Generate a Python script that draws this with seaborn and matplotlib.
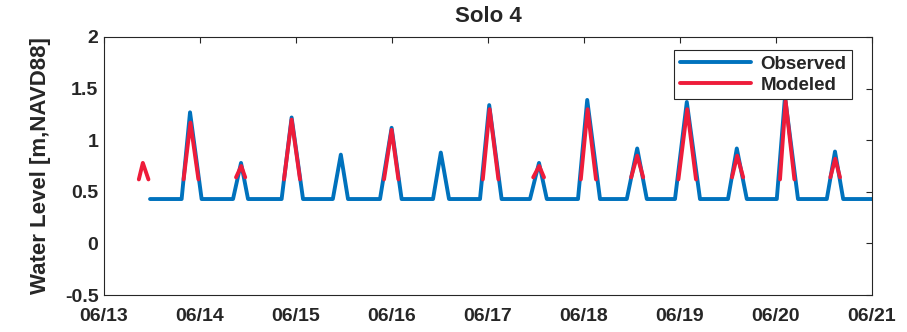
import numpy as np
import pandas as pd
import matplotlib
matplotlib.use("Agg")
import matplotlib.pyplot as plt
import matplotlib.dates as mdates
from matplotlib.lines import Line2D
import seaborn as sns

# --- data (hours after 06/13 00:00, water level m NAVD88) ---
obs_hours = [11.5, 19.4, 21.5, 24.4, 32.25, 34.25, 36.0, 44.4, 46.9, 49.75,
             57.2, 59.2, 61.0, 69.0, 71.9, 74.4, 82.25, 84.2, 86.25, 94.0,
             96.3, 99.4, 106.5, 108.75, 110.7, 118.5, 120.8, 124.0, 130.7, 133.3,
             135.7, 142.75, 145.7, 149.0, 156.0, 158.2, 160.7, 168.2, 170.25, 173.5,
             180.7, 182.75, 184.8, 192.0]
obs_level = [0.43, 0.43, 1.27, 0.43, 0.43, 0.78, 0.43, 0.43, 1.22, 0.43,
             0.43, 0.86, 0.43, 0.43, 1.12, 0.43, 0.43, 0.88, 0.43, 0.43,
             1.34, 0.43, 0.43, 0.78, 0.43, 0.43, 1.39, 0.43, 0.43, 0.92,
             0.43, 0.43, 1.37, 0.43, 0.43, 0.92, 0.43, 0.43, 1.42, 0.43,
             0.43, 0.89, 0.43, 0.43]

# modeled: only wet periods, one list per tide
mod_hours = [[8.7, 9.7, 11.1], [19.9, 21.6, 23.6], [33.0, 34.3, 35.3],
             [45.0, 46.9, 49.0], [70.0, 71.9, 73.6], [94.7, 96.4, 98.6],
             [107.3, 108.8, 110.0], [119.2, 120.9, 123.0], [131.8, 133.3, 134.8],
             [143.6, 145.8, 148.0], [157.0, 158.3, 159.8], [169.0, 170.4, 172.6],
             [181.6, 182.8, 184.0]]
mod_level = [[0.62, 0.78, 0.62], [0.62, 1.17, 0.62], [0.64, 0.75, 0.64],
             [0.62, 1.20, 0.62], [0.62, 1.10, 0.62], [0.62, 1.30, 0.62],
             [0.64, 0.75, 0.64], [0.62, 1.30, 0.62], [0.64, 0.85, 0.64],
             [0.62, 1.30, 0.62], [0.64, 0.85, 0.64], [0.62, 1.38, 0.62],
             [0.64, 0.82, 0.64]]

t0 = pd.Timestamp("2019-06-13")
obs = pd.DataFrame({"time": t0 + pd.to_timedelta(obs_hours, unit="h"),
                    "level": obs_level})
rows = []
for k, (hh, vv) in enumerate(zip(mod_hours, mod_level)):
    for h, v in zip(hh, vv):
        rows.append({"time": t0 + pd.Timedelta(hours=h), "level": v, "seg": k})
mod = pd.DataFrame(rows)

blue = "#0072BD"
red = "#EE1C3A"

sns.set_style("white")
plt.rcParams["font.family"] = ["Liberation Sans", "DejaVu Sans"]
plt.rcParams["font.weight"] = "bold"

fig = plt.figure(figsize=(9.07, 3.32), dpi=100)
ax = fig.add_axes([0.1147, 0.1114, 0.8467, 0.7772])

sns.lineplot(data=obs, x="time", y="level", color=blue, linewidth=2.8, ax=ax, zorder=2)
sns.lineplot(data=mod, x="time", y="level", units="seg", estimator=None,
             color=red, linewidth=2.8, ax=ax, zorder=3)

ax.set_xlim(t0, t0 + pd.Timedelta(days=8))
ax.set_ylim(-0.5, 2)
ax.set_yticks([-0.5, 0, 0.5, 1, 1.5, 2])
ax.set_yticklabels(["-0.5", "0", "0.5", "1", "1.5", "2"])
ax.xaxis.set_major_locator(mdates.DayLocator())
ax.xaxis.set_major_formatter(mdates.DateFormatter("%m/%d"))

ax.tick_params(direction="in", top=True, right=True, length=4, width=0.8,
               labelsize=14, colors="#262626", pad=4)
ax.tick_params(axis="x", pad=9)
for lab in ax.get_xticklabels() + ax.get_yticklabels():
    lab.set_fontweight("bold")
for s in ax.spines.values():
    s.set_color("#262626")
    s.set_linewidth(0.8)

ax.set_xlabel("")
ax.set_ylabel("Water Level [m,NAVD88]", fontsize=16, fontweight="bold", color="#262626", labelpad=10)
ax.set_title("Solo 4", fontsize=16, fontweight="bold", color="#262626", pad=11)

handles = [Line2D([], [], color=blue, linewidth=2.8),
           Line2D([], [], color=red, linewidth=2.8)]
leg = ax.legend(handles, ["Observed", "Modeled"], loc="upper right",
                bbox_to_anchor=(0.974, 0.95), borderaxespad=0, fancybox=False,
                framealpha=1, edgecolor="#262626", handlelength=3.8,
                prop={"size": 13.5, "weight": "bold"}, borderpad=0.3,
                labelspacing=0.2, handletextpad=0.5)
leg.get_frame().set_linewidth(0.8)

fig.savefig("out.png", dpi=100)
